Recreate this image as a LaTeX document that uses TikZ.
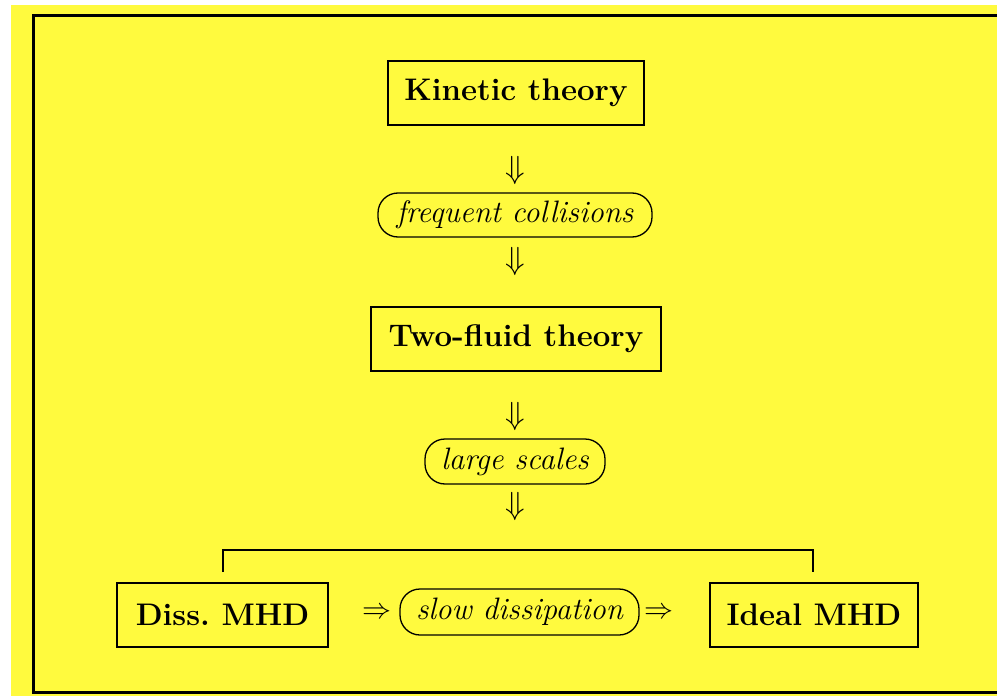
\documentclass[tikz,border=0pt]{standalone}
\usepackage{graphicx}
\definecolor{bgyellow}{RGB}{255,250,62}
\tikzset{
  mainbox/.style={draw, line width=2pt, minimum height=64pt, inner sep=0pt, font=\fontsize{31.2}{37}\selectfont\bfseries},
  condbox/.style={draw, line width=1.3pt, rounded corners=20pt, minimum height=44pt, inner sep=0pt, font=\fontsize{31}{37}\selectfont\itshape},
  sym/.style={inner sep=0pt}
}
\newcommand{\bigdown}{\scalebox{3.2}{$\Downarrow$}}
\newcommand{\bigright}{\scalebox{2.9}{$\Rightarrow$}}
\begin{document}
\begin{tikzpicture}[x=1pt,y=-1pt]
\useasboundingbox (0,0) rectangle (997,696);
\fill[bgyellow] (11,5) rectangle (997,696);
\draw[line width=3pt] (1005,15) -- (33.5,15) -- (33.5,692.5) -- (1005,692.5);

\node[mainbox, minimum width=256pt] (kin) at (516,93) {Kinetic theory};
\node[sym] (a1) at (515,170) {\bigdown};
\node[condbox, minimum width=274pt] (freq) at (515,215) {frequent collisions};
\node[sym] (a2) at (515,261) {\bigdown};
\node[mainbox, minimum width=290pt] (two) at (516,338.5) {Two-fluid theory};
\node[sym] (a3) at (515,416) {\bigdown};
\node[condbox, minimum width=180pt, minimum height=45pt] (large) at (515,461.5) {large scales};
\node[sym] (a4) at (515,506) {\bigdown};

\node[mainbox, minimum width=211pt] (diss) at (222.5,615) {Diss.\ MHD};
\node[mainbox, minimum width=208pt] (ideal) at (814,615) {Ideal MHD};
\node[condbox, minimum width=239pt, minimum height=46pt] (slow) at (519.5,612) {slow dissipation};
\node[sym] (r1) at (377,613) {\bigright};
\node[sym] (r2) at (659,613) {\bigright};

\coordinate (bl) at (223,572);
\coordinate (tl) at (223,550);
\coordinate (tr) at (813,550);
\coordinate (br) at (813,572);
\draw[line width=2pt] (bl) -- (tl) -- (tr) -- (br);
\end{tikzpicture}
\end{document}
